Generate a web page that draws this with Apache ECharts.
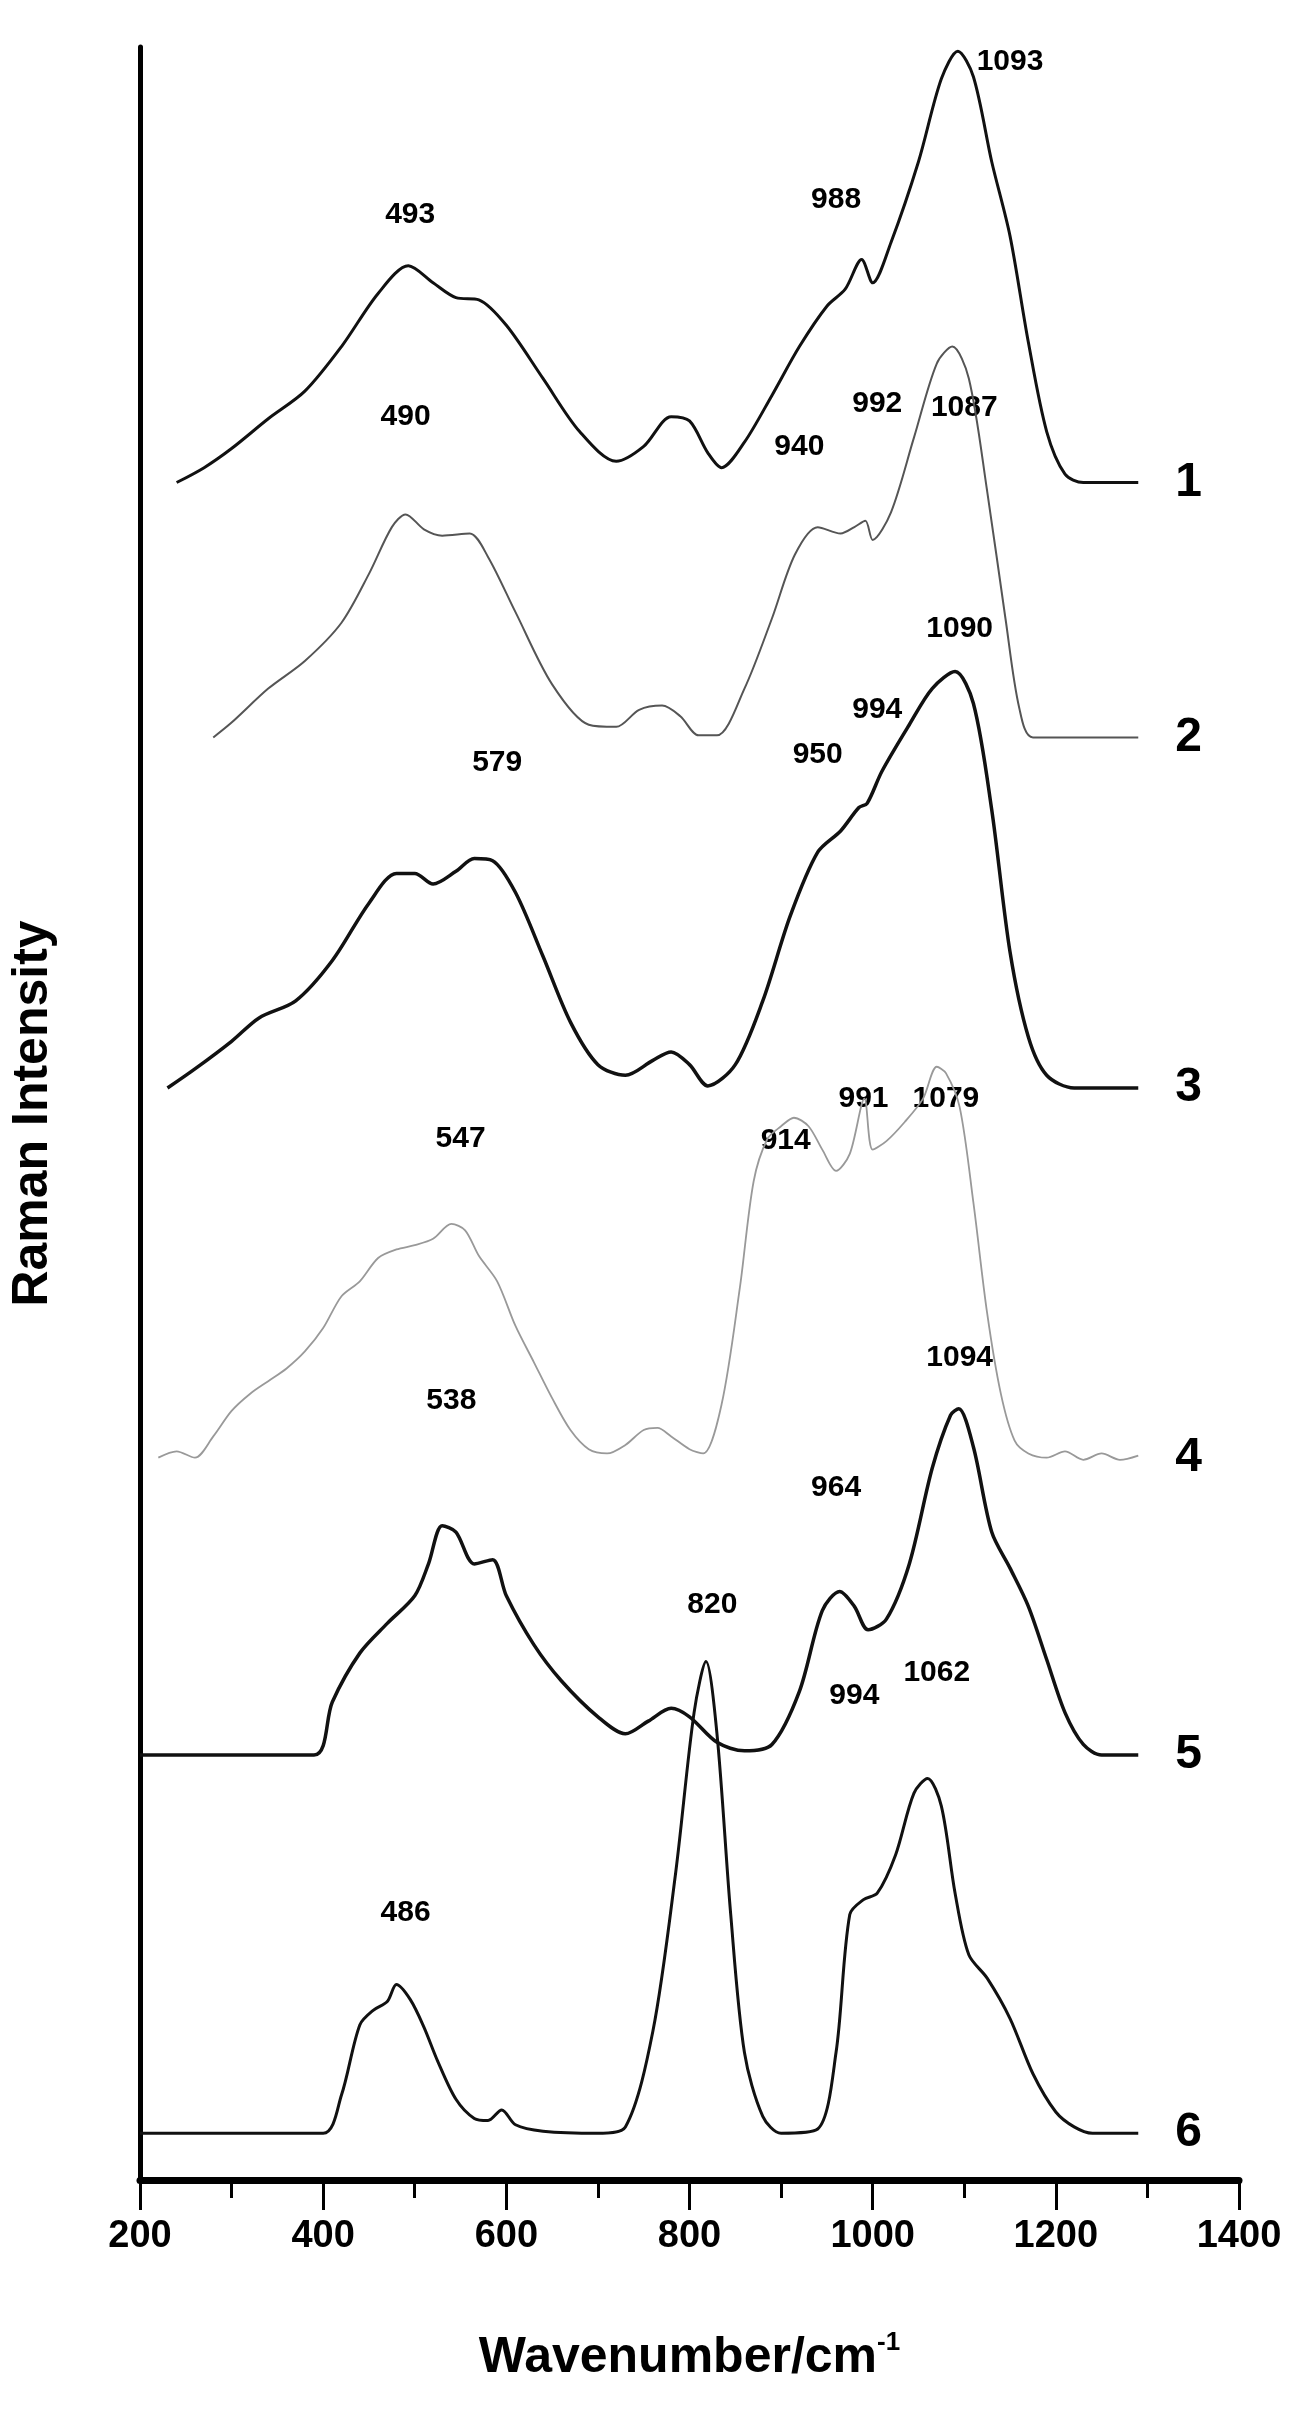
<!DOCTYPE html>
<html>
<head>
<meta charset="utf-8">
<script src="https://cdn.jsdelivr.net/npm/echarts@6/dist/echarts.min.js"></script>
<style>html,body{margin:0;padding:0;background:#fff}#chart{width:1295px;height:2419px}</style>
</head>
<body>
<div id="chart"></div>
<script>
// spectra, [wavenumber, stacked intensity]
var spec1 = [[240,79.9],[270,80.6],[300,81.5],[340,82.9],[380,84.2],[420,86.3],[460,88.8],[493,90.1],[520,89.3],[545,88.6],[570,88.5],[600,87.3],[640,84.8],[680,82.3],[720,80.9],[750,81.6],[780,83.0],[800,82.8],[820,81.3],[835,80.6],[860,81.8],[890,84.0],[920,86.3],[950,88.2],[970,89.0],[988,90.4],[1000,89.3],[1020,91.2],[1050,95.0],[1075,98.9],[1093,100.2],[1110,99.0],[1130,95.0],[1150,91.5],[1170,86.5],[1190,82.3],[1210,80.3],[1230,79.9],[1290,79.9]];
var spec2 = [[280,67.9],[300,68.6],[340,70.2],[380,71.5],[420,73.3],[450,75.6],[475,77.8],[490,78.4],[510,77.7],[530,77.4],[560,77.5],[580,76.4],[610,73.8],[650,70.4],[690,68.5],[720,68.4],[745,69.2],[770,69.4],[790,68.9],[810,68.0],[830,68.0],[860,70.2],[890,73.5],[915,76.5],[940,77.8],[965,77.5],[980,77.8],[992,78.1],[1000,77.2],[1020,78.5],[1045,82.0],[1070,85.5],[1087,86.3],[1105,84.8],[1125,79.5],[1145,73.5],[1160,69.3],[1175,67.9],[1290,67.9]];
var spec3 = [[230,51.4],[260,52.3],[300,53.6],[330,54.7],[370,55.5],[410,57.4],[450,60.1],[480,61.5],[500,61.5],[520,61.0],[545,61.6],[565,62.2],[585,62.1],[610,60.6],[640,57.6],[670,54.5],[700,52.5],[730,52.0],[760,52.7],[780,53.1],[800,52.5],[820,51.5],[850,52.5],[880,55.5],[910,59.5],[940,62.5],[965,63.5],[985,64.6],[994,64.8],[1010,66.3],[1040,68.5],[1065,70.2],[1090,71.0],[1110,69.5],[1130,64.5],[1150,57.8],[1170,53.8],[1190,52.0],[1220,51.4],[1290,51.4]];
var spec4 = [[220,34.0],[240,34.3],[260,34.0],[280,35.0],[300,36.2],[320,37.0],[340,37.6],[360,38.2],[380,39.0],[400,40.1],[420,41.6],[440,42.3],[460,43.4],[480,43.8],[500,44.0],[520,44.3],[540,45.0],[555,44.7],[570,43.5],[590,42.3],[610,40.2],[630,38.5],[650,36.8],[670,35.3],[690,34.4],[710,34.2],[730,34.6],[750,35.3],[765,35.4],[780,35.0],[800,34.4],[815,34.2],[835,36.5],[855,42.0],[870,47.0],[885,49.0],[900,49.6],[914,50.0],[930,49.6],[945,48.5],[960,47.5],[975,48.3],[991,50.9],[1000,48.5],[1015,48.9],[1035,49.8],[1055,50.9],[1070,52.4],[1080,52.1],[1095,50.5],[1110,46.0],[1125,40.8],[1140,37.0],[1155,34.8],[1170,34.2],[1190,34.0],[1210,34.3],[1230,33.9],[1250,34.2],[1270,33.9],[1290,34.1]];
var spec5 = [[200,20.0],[390,20.0],[410,22.5],[440,24.8],[470,26.2],[500,27.5],[515,29.0],[530,30.8],[545,30.5],[565,29.0],[585,29.2],[600,27.5],[630,25.2],[660,23.5],[700,21.8],[730,21.0],[755,21.6],[780,22.2],[800,21.8],[830,20.6],[860,20.2],[890,20.5],[920,23.0],[945,26.8],[964,27.7],[980,27.0],[995,25.9],[1015,26.4],[1040,29.0],[1065,33.5],[1085,36.0],[1094,36.3],[1110,34.5],[1130,30.5],[1150,28.8],[1170,27.0],[1190,24.5],[1210,22.0],[1230,20.5],[1250,20.0],[1290,20.0]];
var spec6 = [[200,2.2],[400,2.2],[420,4.0],[440,7.3],[455,8.0],[470,8.4],[480,9.2],[495,8.5],[510,7.2],[525,5.6],[545,3.8],[565,2.9],[580,2.8],[595,3.3],[610,2.6],[640,2.3],[700,2.2],[730,2.5],[760,7.0],[785,14.5],[805,22.0],[818,24.4],[830,21.0],[845,12.5],[860,6.0],[880,3.0],[900,2.2],[940,2.4],[960,6.0],[975,12.5],[990,13.2],[1005,13.5],[1025,15.3],[1045,18.2],[1060,18.9],[1075,17.6],[1090,13.5],[1105,10.6],[1125,9.5],[1150,7.6],[1175,5.0],[1200,3.2],[1220,2.5],[1240,2.2],[1290,2.2]];

// peak annotations [x, y, text]
var peakLabels = [
  [495,92.5,'493'],[960,93.2,'988'],[1150,99.7,'1093'],
  [490,83.0,'490'],[1100,83.4,'1087'],[1005,83.6,'992'],[920,81.6,'940'],
  [1095,73.0,'1090'],[1005,69.2,'994'],[940,67.1,'950'],[590,66.7,'579'],
  [990,50.9,'991'],[1080,50.9,'1079'],[905,48.9,'914'],[550,49.0,'547'],
  [1095,38.7,'1094'],[540,36.7,'538'],[960,32.6,'964'],
  [825,27.1,'820'],[980,22.8,'994'],[1070,23.9,'1062'],[490,12.6,'486']
];
// curve numbers [x, y, text]
var curveNames = [[1345,79.9,'1'],[1345,67.9,'2'],[1345,51.4,'3'],[1345,34.0,'4'],[1345,20.0,'5'],[1345,2.2,'6']];

var font = 'Liberation Sans';
function line(data, color, width) {
  return {type:'line', data:data, smooth:0.3, symbol:'none',
    lineStyle:{color:color, width:width}};
}
function textSeries(data, size) {
  return {type:'scatter', data:data, symbolSize:0, silent:true,
    itemStyle:{opacity:1},
    label:{show:true, position:'inside', color:'#000', fontFamily:font, fontWeight:'bold', fontSize:size,
      formatter:function(p){return p.value[2];}}};
}

var chart = echarts.init(document.getElementById('chart'));
chart.setOption({
  animation:false,
  grid:{left:137, right:56, top:47, bottom:239},
  xAxis:{
    type:'value', min:200, max:1400, interval:200,
    name:'{a|Wavenumber/cm}{b|-1}', nameLocation:'middle', nameGap:150,
    nameTextStyle:{rich:{
      a:{fontFamily:font, fontWeight:'bold', fontSize:50, color:'#000'},
      b:{fontFamily:font, fontWeight:'bold', fontSize:26, color:'#000', verticalAlign:'top', padding:[0,0,30,0]}
    }},
    axisLine:{lineStyle:{color:'#000', width:7}},
    axisTick:{length:30, lineStyle:{color:'#000', width:3}},
    minorTick:{show:true, splitNumber:2, length:18, lineStyle:{color:'#000', width:3}},
    axisLabel:{fontFamily:font, fontWeight:'bold', fontSize:38, color:'#000', margin:38,
      formatter:function(v){return String(v);}},
    splitLine:{show:false}
  },
  yAxis:{
    type:'value', min:0, max:100.4,
    name:'Raman Intensity', nameLocation:'middle', nameGap:82,
    nameTextStyle:{fontFamily:font, fontWeight:'bold', fontSize:50, color:'#000'},
    axisLine:{show:true, lineStyle:{color:'#000', width:5}},
    axisTick:{show:false}, axisLabel:{show:false}, splitLine:{show:false}
  },
  series:[
    line(spec1,'#111',3),
    line(spec2,'#555',2),
    line(spec3,'#111',3.5),
    line(spec4,'#999',1.8),
    line(spec5,'#111',3.5),
    line(spec6,'#111',3),
    textSeries(peakLabels, 30),
    textSeries(curveNames, 48)
  ]
});
</script>
</body>
</html>
